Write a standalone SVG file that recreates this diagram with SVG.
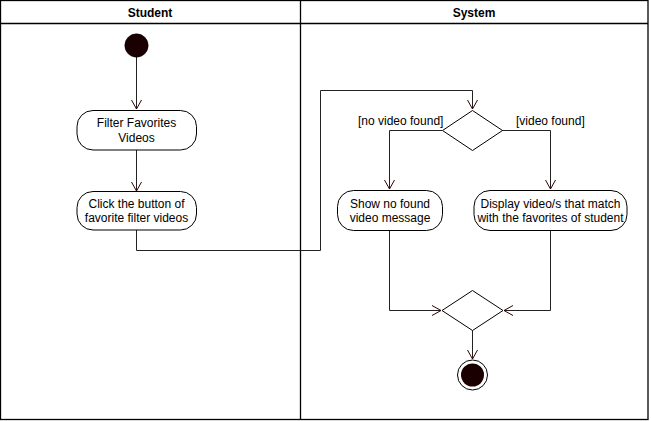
<svg xmlns="http://www.w3.org/2000/svg" width="651" height="421" viewBox="0 0 651 421">
<style>
.lane{fill:none;stroke:#000;stroke-width:1.3}
.hdr{font-family:"Liberation Sans",Arial,sans-serif;font-size:12px;font-weight:bold;fill:#000;text-anchor:middle}
.t{font-family:"Liberation Sans",Arial,sans-serif;font-size:12px;fill:#000;text-anchor:middle}
.g{font-family:"Liberation Sans",Arial,sans-serif;font-size:12px;fill:#000}
.act{fill:#fff;stroke:#000;stroke-width:1}
.dec{fill:#fff;stroke:#000;stroke-width:1}
.c{fill:none;stroke:#222;stroke-width:1}
</style>
<defs>
<marker id="arr" markerWidth="12" markerHeight="12" refX="10" refY="6" orient="auto" markerUnits="userSpaceOnUse">
<path d="M1,1 L10,6 L1,11" fill="none" stroke="#330000" stroke-width="1"/>
</marker>
</defs>
<rect width="651" height="421" fill="#fff"/>
<g id="lanes">
<rect class="lane" x="0.5" y="0.5" width="647.5" height="419"/>
<line class="lane" x1="0.5" y1="23.5" x2="648" y2="23.5"/>
<line class="lane" x1="300.5" y1="0.5" x2="300.5" y2="419.5"/>
<text class="hdr" x="150" y="17">Student</text>
<text class="hdr" x="474" y="17">System</text>
</g>
<g id="connectors">
<path class="c" d="M136.5,57 V109" marker-end="url(#arr)"/>
<path class="c" d="M136.5,150 V191" marker-end="url(#arr)"/>
<path class="c" d="M136.5,230 V250.5 H320.5 V90.5 H472.5 V109" marker-end="url(#arr)"/>
<path class="c" d="M442,130.5 H389.5 V189" marker-end="url(#arr)"/>
<path class="c" d="M502,130.5 H550.5 V189" marker-end="url(#arr)"/>
<path class="c" d="M389.5,231 V310.5 H441" marker-end="url(#arr)"/>
<path class="c" d="M550.5,231 V310.5 H504" marker-end="url(#arr)"/>
<path class="c" d="M472.5,330 V359" stroke-width="2" marker-end="url(#arr)"/>
<text class="g" x="358" y="125">[no video found]</text>
<text class="g" x="516" y="125">[video found]</text>
</g>
<g id="start">
<circle cx="136.5" cy="45.5" r="11.7" fill="#1a0000" stroke="#000" stroke-width="0.5"/>
</g>
<g id="filter">
<rect class="act" x="77" y="110.5" width="119.5" height="39.5" rx="16"/>
<text class="t" x="136.5" y="127">Filter Favorites</text>
<text class="t" x="136.5" y="142">Videos</text>
</g>
<g id="click">
<rect class="act" x="77" y="191.5" width="119.5" height="38.5" rx="16"/>
<text class="t" x="136.5" y="208">Click the button of</text>
<text class="t" x="136.5" y="222">favorite filter videos</text>
</g>
<g id="decision">
<path class="dec" d="M472.5,110.5 L502.5,130.5 L472.5,150.5 L442.5,130.5 Z"/>
</g>
<g id="show">
<rect class="act" x="337.5" y="190.5" width="105" height="40" rx="16"/>
<text class="t" x="390" y="208">Show no found</text>
<text class="t" x="390" y="222">video message</text>
</g>
<g id="display">
<rect class="act" x="474" y="190.5" width="153" height="40" rx="16"/>
<text class="t" x="550.5" y="208">Display video/s that match</text>
<text class="t" x="550.5" y="222">with the favorites of student</text>
</g>
<g id="merge">
<path class="dec" d="M472.5,290.5 L503,310.5 L472.5,330.5 L442,310.5 Z"/>
</g>
<g id="final">
<circle cx="472.5" cy="375" r="15" fill="#fff" stroke="#000" stroke-width="1"/>
<circle cx="472.5" cy="375" r="11.5" fill="#1a0000"/>
</g>
</svg>
